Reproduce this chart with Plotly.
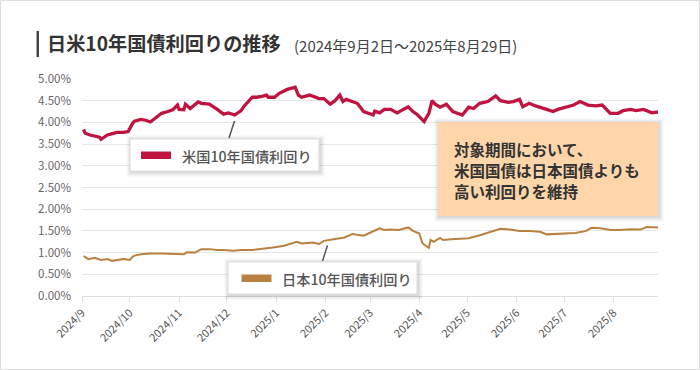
import plotly.graph_objects as go

# ---------------- data ----------------
us_dates = [
    "2024-09-02", "2024-09-03", "2024-09-06", "2024-09-09", "2024-09-12", "2024-09-13",
    "2024-09-17", "2024-09-20", "2024-09-23", "2024-09-27", "2024-09-30", "2024-10-03",
    "2024-10-04", "2024-10-08", "2024-10-11", "2024-10-14", "2024-10-17", "2024-10-21",
    "2024-10-24", "2024-10-28", "2024-10-31", "2024-11-01", "2024-11-04", "2024-11-05",
    "2024-11-08", "2024-11-11", "2024-11-13", "2024-11-15", "2024-11-20", "2024-11-25",
    "2024-11-29", "2024-12-02", "2024-12-06", "2024-12-10", "2024-12-12", "2024-12-17",
    "2024-12-20", "2024-12-23", "2024-12-26", "2024-12-27", "2024-12-31", "2025-01-03",
    "2025-01-08", "2025-01-13", "2025-01-15", "2025-01-17", "2025-01-22", "2025-01-28",
    "2025-01-31", "2025-02-04", "2025-02-07", "2025-02-10", "2025-02-12", "2025-02-14",
    "2025-02-21", "2025-02-25", "2025-03-03", "2025-03-04", "2025-03-07", "2025-03-10",
    "2025-03-14", "2025-03-18", "2025-03-25", "2025-03-28", "2025-03-31", "2025-04-04",
    "2025-04-07", "2025-04-09", "2025-04-11", "2025-04-14", "2025-04-18", "2025-04-22",
    "2025-04-28", "2025-05-02", "2025-05-05", "2025-05-09", "2025-05-14", "2025-05-19",
    "2025-05-22", "2025-05-27", "2025-05-30", "2025-06-03", "2025-06-05", "2025-06-09",
    "2025-06-13", "2025-06-20", "2025-06-24", "2025-06-27", "2025-07-03", "2025-07-07",
    "2025-07-11", "2025-07-16", "2025-07-21", "2025-07-25", "2025-07-30", "2025-08-04",
    "2025-08-07", "2025-08-12", "2025-08-15", "2025-08-20", "2025-08-25", "2025-08-29",
]
us_yield = [
    3.84, 3.75, 3.71, 3.69, 3.66, 3.61,
    3.71, 3.74, 3.77, 3.77, 3.79, 3.99,
    4.03, 4.07, 4.05, 4.01, 4.10, 4.21,
    4.24, 4.29, 4.40, 4.30, 4.29, 4.42,
    4.32, 4.40, 4.47, 4.44, 4.42, 4.30,
    4.19, 4.22, 4.17, 4.27, 4.38, 4.58,
    4.58, 4.60, 4.63, 4.58, 4.58, 4.67,
    4.76, 4.81, 4.63, 4.58, 4.63, 4.55,
    4.55, 4.42, 4.50, 4.63, 4.48, 4.53,
    4.44, 4.25, 4.17, 4.26, 4.22, 4.30,
    4.30, 4.22, 4.36, 4.25, 4.17, 4.02,
    4.21, 4.50, 4.42, 4.35, 4.42, 4.25,
    4.17, 4.35, 4.32, 4.44, 4.48, 4.61,
    4.50, 4.46, 4.48, 4.53, 4.36, 4.44,
    4.38, 4.30, 4.25, 4.30, 4.36, 4.40,
    4.48, 4.40, 4.38, 4.40, 4.21, 4.21,
    4.27, 4.30, 4.27, 4.30, 4.22, 4.24,
]

jp_dates = [
    "2024-09-02", "2024-09-05", "2024-09-09", "2024-09-11", "2024-09-13", "2024-09-17",
    "2024-09-20", "2024-09-27", "2024-10-01", "2024-10-03", "2024-10-04", "2024-10-08",
    "2024-10-14", "2024-10-21", "2024-10-28", "2024-11-04", "2024-11-06", "2024-11-11",
    "2024-11-15", "2024-11-20", "2024-11-25", "2024-11-29", "2024-12-05", "2024-12-10",
    "2024-12-17", "2024-12-23", "2024-12-30", "2025-01-06", "2025-01-10", "2025-01-14",
    "2025-01-17", "2025-01-24", "2025-01-28", "2025-01-31", "2025-02-06", "2025-02-13",
    "2025-02-18", "2025-02-21", "2025-02-25", "2025-02-28", "2025-03-04", "2025-03-07",
    "2025-03-10", "2025-03-14", "2025-03-19", "2025-03-25", "2025-03-28", "2025-04-01",
    "2025-04-03", "2025-04-07", "2025-04-08", "2025-04-10", "2025-04-14", "2025-04-16",
    "2025-04-21", "2025-04-25", "2025-05-02", "2025-05-09", "2025-05-15", "2025-05-22",
    "2025-05-28", "2025-06-03", "2025-06-09", "2025-06-16", "2025-06-20", "2025-06-25",
    "2025-07-02", "2025-07-08", "2025-07-15", "2025-07-18", "2025-07-24", "2025-07-30",
    "2025-08-05", "2025-08-12", "2025-08-18", "2025-08-22", "2025-08-29",
]
jp_yield = [
    0.92, 0.85, 0.88, 0.85, 0.83, 0.85,
    0.81, 0.85, 0.83, 0.91, 0.93, 0.96,
    0.98, 0.98, 0.97, 0.96, 1.01, 1.00,
    1.08, 1.08, 1.06, 1.06, 1.04, 1.06,
    1.06, 1.08, 1.12, 1.16, 1.20, 1.25,
    1.21, 1.23, 1.20, 1.27, 1.31, 1.35,
    1.43, 1.41, 1.39, 1.44, 1.50, 1.56,
    1.52, 1.53, 1.52, 1.58, 1.50, 1.44,
    1.21, 1.11, 1.29, 1.25, 1.34, 1.29,
    1.31, 1.32, 1.33, 1.40, 1.47, 1.55,
    1.53, 1.50, 1.50, 1.48, 1.42, 1.43,
    1.45, 1.45, 1.50, 1.57, 1.56, 1.52,
    1.52, 1.54, 1.53, 1.59, 1.58,
]

month_ticks = [
    "2024-09-01", "2024-10-01", "2024-11-01", "2024-12-01", "2025-01-01", "2025-02-01",
    "2025-03-01", "2025-04-01", "2025-05-01", "2025-06-01", "2025-07-01", "2025-08-01",
]
month_labels = [
    "2024/9", "2024/10", "2024/11", "2024/12", "2025/1", "2025/2",
    "2025/3", "2025/4", "2025/5", "2025/6", "2025/7", "2025/8",
]
y_ticks = [0, 0.5, 1.0, 1.5, 2.0, 2.5, 3.0, 3.5, 4.0, 4.5, 5.0]
y_labels = ["0.00%", "0.50%", "1.00%", "1.50%", "2.00%", "2.50%",
            "3.00%", "3.50%", "4.00%", "4.50%", "5.00%"]

title_text = "日米10年国債利回りの推移"
subtitle_text = "(2024年9月2日～2025年8月29日)"
us_name = "米国10年国債利回り"
jp_name = "日本10年国債利回り"
note_lines = ["対象期間において、", "米国国債は日本国債よりも", "高い利回りを維持"]

# ---------------- layout geometry ----------------
W, H = 700, 370
L, R, T, B = 82, 658, 79, 296
FONT = "Noto Sans CJK JP"


def xp(px):
    return (px - L) / (R - L)


def yp(py):
    return (B - py) / (B - T)


US_COLOR = "#BF1440"
JP_COLOR = "#B9813F"

fig = go.Figure()
fig.add_trace(go.Scatter(x=us_dates, y=us_yield, mode="lines", name=us_name,
                         line=dict(color=US_COLOR, width=3.3), hoverinfo="skip"))
fig.add_trace(go.Scatter(x=jp_dates, y=jp_yield, mode="lines", name=jp_name,
                         line=dict(color=JP_COLOR, width=2), hoverinfo="skip"))

shapes = []
annotations = []

# outer card border
shapes.append(dict(type="rect", xref="paper", yref="paper",
                   x0=xp(0.5), x1=xp(W - 0.5), y0=yp(H - 0.5), y1=yp(0.5),
                   line=dict(color="#DDDDDD", width=1), fillcolor="rgba(0,0,0,0)", layer="below"))

# title bar
shapes.append(dict(type="rect", xref="paper", yref="paper",
                   x0=xp(36.5), x1=xp(39), y0=yp(57), y1=yp(31),
                   line=dict(width=0), fillcolor="#444444", layer="above"))
annotations.append(dict(text="<b>" + title_text + "</b>", xref="paper", yref="paper",
                        x=xp(45), y=yp(43), xanchor="left", yanchor="middle", showarrow=False,
                        font=dict(family=FONT, size=19.2, color="#333333")))
annotations.append(dict(text=subtitle_text, xref="paper", yref="paper",
                        x=xp(292), y=yp(45), xanchor="left", yanchor="middle", showarrow=False,
                        font=dict(family=FONT, size=15, color="#444444")))


def shadow_box(x0, y0, x1, y1, fill, border=None):
    for i, a in [(5, 0.02), (4, 0.025), (3, 0.03), (2, 0.035), (1, 0.04)]:
        shapes.append(dict(type="rect", xref="paper", yref="paper",
                           x0=xp(x0 - i + 1), x1=xp(x1 + i + 1), y0=yp(y1 + i + 1), y1=yp(y0 - i + 1),
                           line=dict(width=0), fillcolor=f"rgba(0,0,0,{a})", layer="above"))
    shapes.append(dict(type="rect", xref="paper", yref="paper",
                       x0=xp(x0), x1=xp(x1), y0=yp(y1), y1=yp(y0),
                       line=dict(color=border or fill, width=1 if border else 0),
                       fillcolor=fill, layer="above"))


# US legend box
shadow_box(130, 139, 319, 171, "#FFFFFF", "#DDDDDD")
shapes.append(dict(type="rect", xref="paper", yref="paper",
                   x0=xp(141), x1=xp(171), y0=yp(159), y1=yp(151.5),
                   line=dict(width=0), fillcolor=US_COLOR, layer="above"))
annotations.append(dict(text=us_name, xref="paper", yref="paper", x=xp(180), y=yp(155.5),
                        xanchor="left", yanchor="middle", showarrow=False,
                        font=dict(family=FONT, size=14.2, color="#555555", weight=500)))
shapes.append(dict(type="line", xref="paper", yref="paper",
                   x0=xp(234.5), y0=yp(121), x1=xp(229), y1=yp(138),
                   line=dict(color="#555555", width=1.5), layer="above"))

# JP legend box
shadow_box(228, 262, 417, 294, "#FFFFFF", "#DDDDDD")
shapes.append(dict(type="rect", xref="paper", yref="paper",
                   x0=xp(241.5), x1=xp(271.5), y0=yp(282), y1=yp(274.5),
                   line=dict(width=0), fillcolor=JP_COLOR, layer="above"))
annotations.append(dict(text=jp_name, xref="paper", yref="paper", x=xp(280), y=yp(278.5),
                        xanchor="left", yanchor="middle", showarrow=False,
                        font=dict(family=FONT, size=14.2, color="#555555", weight=500)))
shapes.append(dict(type="line", xref="paper", yref="paper",
                   x0=xp(327.5), y0=yp(245.5), x1=xp(322.5), y1=yp(261),
                   line=dict(color="#555555", width=1.5), layer="above"))

# note box
shadow_box(438, 122, 658, 216, "#FED6AA")
for i, line in enumerate(note_lines):
    annotations.append(dict(text="<b>" + line + "</b>", xref="paper", yref="paper",
                            x=xp(452), y=yp(148.5 + i * 21.3), xanchor="left", yanchor="middle",
                            showarrow=False, font=dict(family=FONT, size=15.5, color="#333333")))

fig.update_layout(
    width=W, height=H,
    margin=dict(l=L, r=W - R, t=T, b=H - B, pad=0),
    paper_bgcolor="#FFFFFF", plot_bgcolor="#FFFFFF",
    showlegend=False,
    font=dict(family=FONT, color="#555555"),
    shapes=shapes, annotations=annotations,
    xaxis=dict(type="date", range=["2024-09-01", "2025-08-29"],
               tickvals=month_ticks, ticktext=month_labels, tickangle=-45,
               tickfont=dict(family=FONT, size=11, color="#555555"),
               showgrid=False, showline=True, linecolor="#E0E0E0", linewidth=1,
               ticks="outside", ticklen=5, tickcolor="#E0E0E0", zeroline=False,
               fixedrange=True),
    yaxis=dict(range=[0, 5], tickvals=y_ticks, ticktext=y_labels,
               tickfont=dict(family=FONT, size=11.5, color="#666666"),
               showgrid=True, gridcolor="#E6E6E6", gridwidth=1, zeroline=False,
               showline=False, ticks="", ticklabelstandoff=10, fixedrange=True),
)

fig.write_html("out.html", config={"displayModeBar": False},
               post_script="document.body.style.margin='0';document.body.style.overflow='hidden';")
